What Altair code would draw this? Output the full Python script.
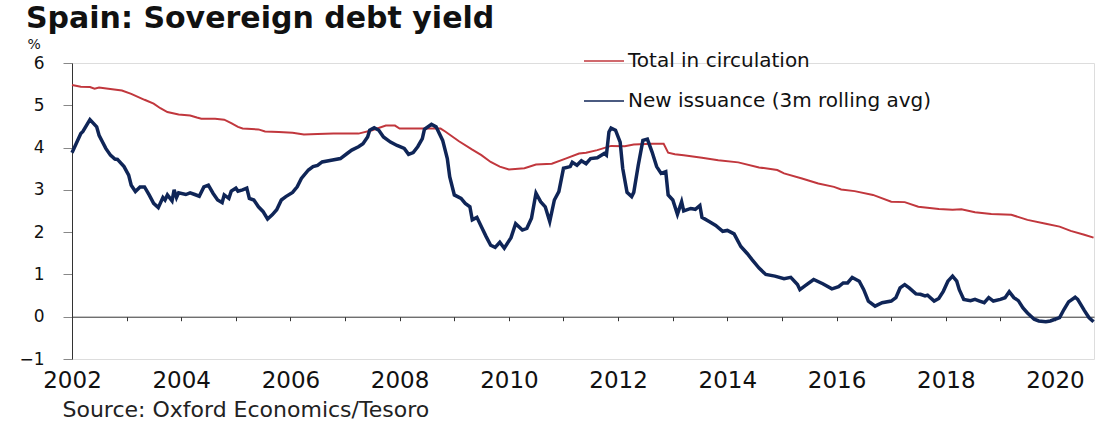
import altair as alt
import pandas as pd

# ---------------- data ----------------
series_names = ["Total in circulation", "New issuance (3m rolling avg)"]
series_colors = ["#C1373D", "#0F2557"]

total_dates = [
    "2002-01-01", "2002-03-01", "2002-05-01", "2002-06-01", "2002-07-01", "2002-09-01",
    "2002-12-01", "2003-02-01", "2003-05-01", "2003-07-01", "2003-08-15", "2003-10-01",
    "2003-12-15", "2004-03-01", "2004-04-15", "2004-05-15", "2004-08-15", "2004-10-15",
    "2004-12-01", "2005-01-15", "2005-02-15", "2005-06-01", "2005-07-15", "2005-10-15",
    "2006-01-15", "2006-04-01", "2006-07-01", "2006-10-15", "2007-01-01", "2007-04-01",
    "2007-07-01", "2007-10-01", "2007-12-01", "2008-01-01", "2008-06-15", "2008-10-01",
    "2008-11-01", "2009-02-01", "2009-05-01", "2009-07-01", "2009-09-01", "2009-11-01",
    "2010-01-01", "2010-04-15", "2010-07-01", "2010-10-15", "2011-01-15", "2011-04-15",
    "2011-06-01", "2011-08-15", "2011-11-15", "2012-02-15", "2012-04-15", "2012-08-15",
    "2012-11-01", "2012-12-01", "2013-01-15", "2013-03-15", "2013-07-15", "2013-11-01",
    "2014-03-15", "2014-08-01", "2014-12-01", "2015-01-15", "2015-05-15", "2015-09-01",
    "2015-12-15", "2016-02-01", "2016-05-01", "2016-09-01", "2017-01-01", "2017-04-01",
    "2017-07-01", "2017-11-15", "2018-02-15", "2018-04-15", "2018-07-15", "2018-11-01",
    "2019-03-15", "2019-07-01", "2019-11-01", "2020-02-01", "2020-04-15", "2020-07-15",
    "2020-09-15",
]
total_values = [
    5.48, 5.44, 5.43, 5.39, 5.42, 5.39,
    5.35, 5.27, 5.13, 5.04, 4.93, 4.84,
    4.78, 4.76, 4.71, 4.68, 4.68, 4.66,
    4.58, 4.49, 4.45, 4.43, 4.38, 4.37,
    4.35, 4.31, 4.32, 4.33, 4.33, 4.33,
    4.41, 4.52, 4.52, 4.45, 4.45, 4.45,
    4.38, 4.15, 3.95, 3.82, 3.66, 3.55,
    3.48, 3.51, 3.60, 3.62, 3.74, 3.86,
    3.88, 3.94, 4.04, 4.03, 4.07, 4.09,
    4.09, 3.88, 3.84, 3.82, 3.76, 3.70,
    3.65, 3.53, 3.47, 3.39, 3.27, 3.15,
    3.07, 3.01, 2.97, 2.88, 2.72, 2.71,
    2.60, 2.55, 2.53, 2.54, 2.47, 2.43,
    2.41, 2.29, 2.20, 2.13, 2.03, 1.94,
    1.87,
]

new_dates = [
    "2002-01-01", "2002-03-01", "2002-03-15", "2002-05-01", "2002-06-15", "2002-07-01",
    "2002-08-15", "2002-09-15", "2002-10-15", "2002-11-01", "2002-12-15", "2003-01-15",
    "2003-02-01", "2003-03-01", "2003-04-01", "2003-05-01", "2003-06-01", "2003-07-01",
    "2003-08-01", "2003-09-01", "2003-09-15", "2003-10-01", "2003-11-01", "2003-11-15",
    "2003-12-01", "2003-12-15", "2004-02-01", "2004-03-01", "2004-04-01", "2004-05-01",
    "2004-06-01", "2004-07-01", "2004-08-01", "2004-09-01", "2004-10-01", "2004-10-15",
    "2004-11-15", "2004-12-01", "2005-01-01", "2005-01-15", "2005-02-15", "2005-03-15",
    "2005-04-01", "2005-05-01", "2005-06-01", "2005-07-01", "2005-08-01", "2005-09-01",
    "2005-10-01", "2005-11-01", "2005-12-01", "2006-01-15", "2006-02-15", "2006-03-15",
    "2006-05-01", "2006-06-01", "2006-07-01", "2006-08-01", "2006-10-01", "2006-12-01",
    "2007-01-15", "2007-02-15", "2007-04-01", "2007-05-01", "2007-06-01", "2007-06-15",
    "2007-07-15", "2007-08-15", "2007-09-15", "2007-11-01", "2007-12-15", "2008-02-01",
    "2008-03-01", "2008-04-01", "2008-05-01", "2008-06-01", "2008-06-15", "2008-08-01",
    "2008-09-01", "2008-10-15", "2008-11-15", "2008-12-01", "2009-01-01", "2009-02-15",
    "2009-03-15", "2009-04-15", "2009-05-01", "2009-06-01", "2009-07-01", "2009-08-01",
    "2009-09-01", "2009-10-01", "2009-11-01", "2009-12-01", "2010-01-15", "2010-02-15",
    "2010-04-01", "2010-05-01", "2010-06-01", "2010-07-01", "2010-08-01", "2010-09-01",
    "2010-10-01", "2010-11-01", "2010-12-01", "2011-01-01", "2011-02-15", "2011-03-01",
    "2011-04-01", "2011-05-01", "2011-06-01", "2011-07-01", "2011-08-15", "2011-10-01",
    "2011-10-15", "2011-11-01", "2011-11-15", "2011-12-15", "2012-01-15", "2012-02-01",
    "2012-03-01", "2012-04-01", "2012-04-15", "2012-05-15", "2012-06-15", "2012-07-15",
    "2012-08-15", "2012-09-15", "2012-10-15", "2012-11-15", "2012-12-01", "2013-01-01",
    "2013-02-01", "2013-03-01", "2013-03-15", "2013-05-01", "2013-06-01", "2013-07-01",
    "2013-07-15", "2013-09-01", "2013-10-15", "2013-12-01", "2014-01-01", "2014-02-15",
    "2014-04-01", "2014-05-15", "2014-06-15", "2014-08-01", "2014-09-15", "2014-11-15",
    "2015-01-15", "2015-03-01", "2015-04-15", "2015-05-01", "2015-06-15", "2015-08-01",
    "2015-10-01", "2015-12-01", "2016-01-15", "2016-02-15", "2016-03-15", "2016-04-15",
    "2016-06-01", "2016-07-01", "2016-08-01", "2016-09-15", "2016-11-01", "2017-01-01",
    "2017-02-01", "2017-03-01", "2017-04-01", "2017-05-01", "2017-06-15", "2017-07-15",
    "2017-08-15", "2017-09-01", "2017-10-15", "2017-11-15", "2017-12-15", "2018-01-15",
    "2018-02-15", "2018-03-15", "2018-04-01", "2018-05-01", "2018-06-15", "2018-07-15",
    "2018-08-15", "2018-09-15", "2018-10-15", "2018-11-15", "2019-01-01", "2019-02-01",
    "2019-03-01", "2019-04-01", "2019-05-01", "2019-06-01", "2019-07-01", "2019-08-15",
    "2019-09-15", "2019-11-01", "2019-12-01", "2020-01-01", "2020-02-01", "2020-03-01",
    "2020-04-01", "2020-05-15", "2020-06-01", "2020-07-15", "2020-08-15", "2020-09-15",
]
new_values = [
    3.88, 4.33, 4.38, 4.66, 4.49, 4.29,
    3.98, 3.82, 3.73, 3.72, 3.55, 3.35,
    3.11, 2.96, 3.07, 3.07, 2.88, 2.68,
    2.58, 2.82, 2.76, 2.88, 2.74, 3.00,
    2.82, 2.93, 2.89, 2.93, 2.89, 2.85,
    3.07, 3.11, 2.92, 2.76, 2.70, 2.88,
    2.80, 2.97, 3.04, 2.97, 3.00, 3.04,
    2.80, 2.76, 2.60, 2.49, 2.31, 2.41,
    2.53, 2.76, 2.84, 2.94, 3.07, 3.27,
    3.47, 3.55, 3.58, 3.66, 3.70, 3.74,
    3.86, 3.94, 4.02, 4.09, 4.25, 4.41,
    4.47, 4.41, 4.25, 4.13, 4.05, 3.98,
    3.84, 3.88, 4.02, 4.21, 4.43, 4.55,
    4.49, 4.17, 3.74, 3.31, 2.88, 2.80,
    2.68, 2.60, 2.29, 2.35, 2.13, 1.90,
    1.69, 1.64, 1.76, 1.62, 1.87, 2.20,
    2.05, 2.09, 2.33, 2.92, 2.72, 2.60,
    2.25, 2.76, 2.96, 3.51, 3.55, 3.65,
    3.58, 3.69, 3.62, 3.74, 3.76, 3.86,
    3.82, 4.37, 4.46, 4.41, 4.13, 3.51,
    2.94, 2.84, 2.94, 3.58, 4.17, 4.20,
    3.90, 3.55, 3.39, 3.43, 2.88, 2.76,
    2.42, 2.72, 2.50, 2.56, 2.54, 2.63,
    2.35, 2.25, 2.16, 2.02, 2.04, 1.96,
    1.66, 1.49, 1.35, 1.15, 1.00, 0.96,
    0.90, 0.93, 0.76, 0.64, 0.76, 0.88,
    0.78, 0.66, 0.71, 0.80, 0.80, 0.93,
    0.84, 0.64, 0.37, 0.25, 0.33, 0.37,
    0.45, 0.68, 0.76, 0.68, 0.54, 0.53,
    0.49, 0.51, 0.37, 0.43, 0.60, 0.84,
    0.96, 0.84, 0.64, 0.41, 0.38, 0.41,
    0.37, 0.33, 0.45, 0.37, 0.41, 0.45,
    0.59, 0.45, 0.38, 0.21, 0.09, -0.06,
    -0.10, -0.12, -0.10, -0.06, -0.02, 0.17,
    0.35, 0.46, 0.41, 0.15, -0.02, -0.12,
]

y_ticks = [-1, 0, 1, 2, 3, 4, 5, 6]
y_min, y_max = -1, 6

# ---------------- layout ----------------
W, H = 1022, 296
FONT = "DejaVu Sans"
zero_offset = -H * (0 - y_min) / (y_max - y_min)   # x axis sits on the zero line

df_total = pd.DataFrame({"date": total_dates, "value": total_values, "series": series_names[0]})
df_new = pd.DataFrame({"date": new_dates, "value": new_values, "series": series_names[1]})

x_enc = alt.X(
    "date:T",
    scale=alt.Scale(
        domain=[alt.DateTime(year=2002, month=1, date=1), alt.DateTime(year=2020, month=9, date=18)],
        nice=False,
    ),
    axis=alt.Axis(
        title="Source: Oxford Economics/Tesoro",
        titleFont=FONT, titleFontSize=22, titleFontWeight="normal", titleColor="#222222",
        titleAnchor="start", titleAlign="left", titleBaseline="middle",
        titleX=-10, titleY=93,
        tickCount={"interval": "year", "step": 1},
        labelExpr="year(datum.value) % 2 == 0 ? timeFormat(datum.value, '%Y') : ''",
        labelFont=FONT, labelFontSize=23, labelColor="#111111",
        labelPadding=49, labelFlush=False, labelOverlap=False,
        offset=zero_offset, tickSize=4, tickColor="#333333",
        domainColor="#333333", grid=False,
    ),
)
y_enc = alt.Y(
    "value:Q",
    scale=alt.Scale(domain=[y_min, y_max], nice=False, zero=False),
    axis=alt.Axis(
        values=y_ticks, format="d",
        title="%", titleAngle=0, titleFont=FONT, titleFontSize=14, titleFontWeight="normal",
        titleColor="#111111", titleAlign="left", titleBaseline="middle",
        titleX=-45, titleY=-19,
        labelFont=FONT, labelFontSize=17, labelColor="#111111", labelPadding=19,
        tickSize=9, tickColor="#888888", domainColor="#333333", grid=False,
    ),
)
color_scale = alt.Scale(domain=series_names, range=series_colors)
legend = alt.Legend(
    title=None, orient="none", legendX=511, legendY=-23,
    symbolType="stroke", symbolSize=1600, symbolStrokeWidth=1.5,
    labelFont=FONT, labelFontSize=20, labelColor="#111111", labelOffset=3,
    labelLimit=0, rowPadding=9, padding=0,
)

total_line = alt.Chart(df_total).mark_line(strokeWidth=2).encode(
    x=x_enc, y=y_enc, color=alt.Color("series:N", scale=color_scale, legend=legend)
)
new_line = alt.Chart(df_new).mark_line(strokeWidth=3.5).encode(
    x=x_enc, y=y_enc, color=alt.Color("series:N", scale=color_scale, legend=legend)
)

chart = (
    alt.layer(total_line, new_line)
    .properties(
        width=W, height=H,
        title=alt.TitleParams(
            "Spain: Sovereign debt yield", anchor="start", frame="group",
            font=FONT, fontSize=30, fontWeight="bold", color="#111111", dx=-46, dy=-1, offset=2,
        ),
        autosize=alt.AutoSizeParams(type="none"),
        padding={"left": 72, "top": 63, "right": 1, "bottom": 64},
    )
    .configure_view(stroke=None)
    .configure(background="white")
)

chart.save("out.html", embed_options={"renderer": "svg", "actions": False})
